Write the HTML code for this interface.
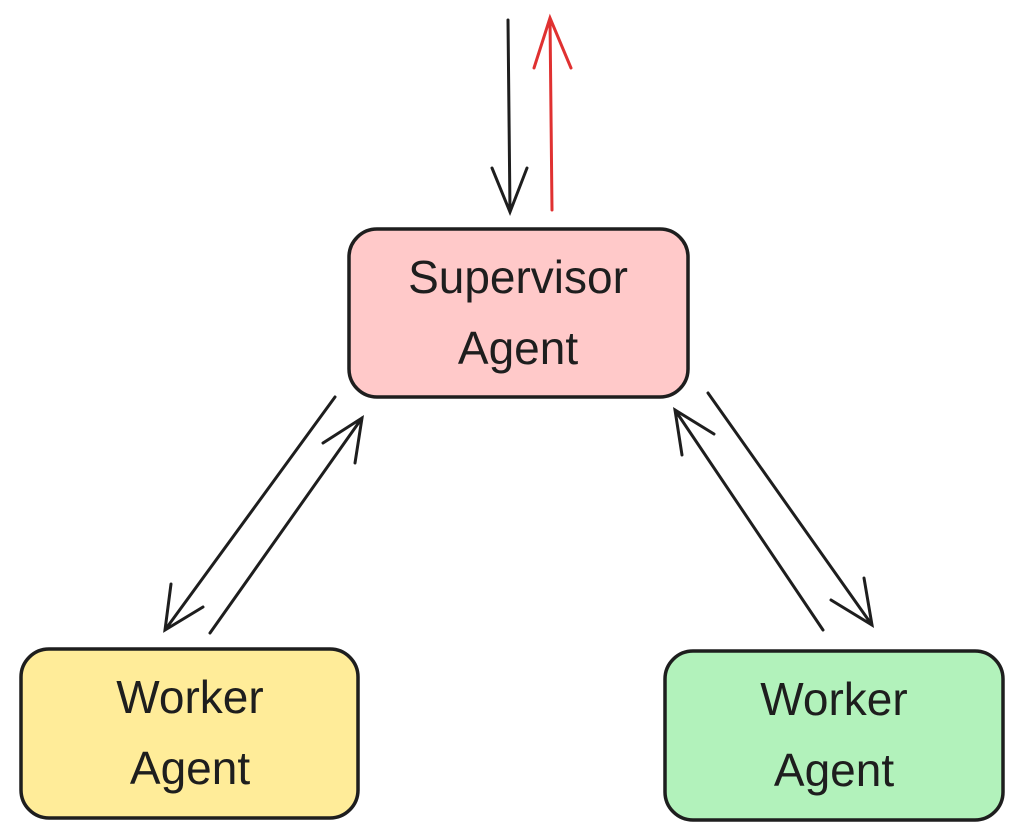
<!DOCTYPE html>
<html><head><meta charset="utf-8"><style>
html,body{margin:0;padding:0;background:#fff;}
svg{display:block;}
text{font-family:"Liberation Sans",sans-serif;font-size:46px;fill:#1e1e1e;text-anchor:middle;font-weight:500;}
</style></head><body>
<svg width="1023" height="838" viewBox="0 0 1023 838">
<rect x="349" y="229" width="339" height="168" rx="28" fill="#ffc9c9" stroke="#1e1e1e" stroke-width="3.5"/>
<rect x="21" y="649" width="337" height="169" rx="28" fill="#ffec99" stroke="#1e1e1e" stroke-width="3.5"/>
<rect x="665" y="651" width="338" height="169" rx="28" fill="#b2f2bb" stroke="#1e1e1e" stroke-width="3.5"/>
<text x="518" y="293">Supervisor</text>
<text x="518" y="364">Agent</text>
<text x="190" y="713">Worker</text>
<text x="190" y="784">Agent</text>
<text x="834" y="715">Worker</text>
<text x="834" y="786">Agent</text>
<g stroke="#1e1e1e" stroke-width="3" fill="none" stroke-linecap="round">
<path d="M508 20 L510 212 M492 168 L510 212 L527 168"/>
<path d="M335 397 L165 630 M171 584 L165 630 L203 607"/>
<path d="M210 633 L362 418 M323 443 L362 418 L355 463"/>
<path d="M708 393 L872 625 M831 600 L872 625 L864 578"/>
<path d="M823 630 L675 410 M682 455 L675 410 L714 434"/>
</g>
<g stroke="#e03131" stroke-width="3" fill="none" stroke-linecap="round">
<path d="M552 210 L550 18 M534 68 L550 18 L571 68"/>
</g>
</svg>
</body></html>
